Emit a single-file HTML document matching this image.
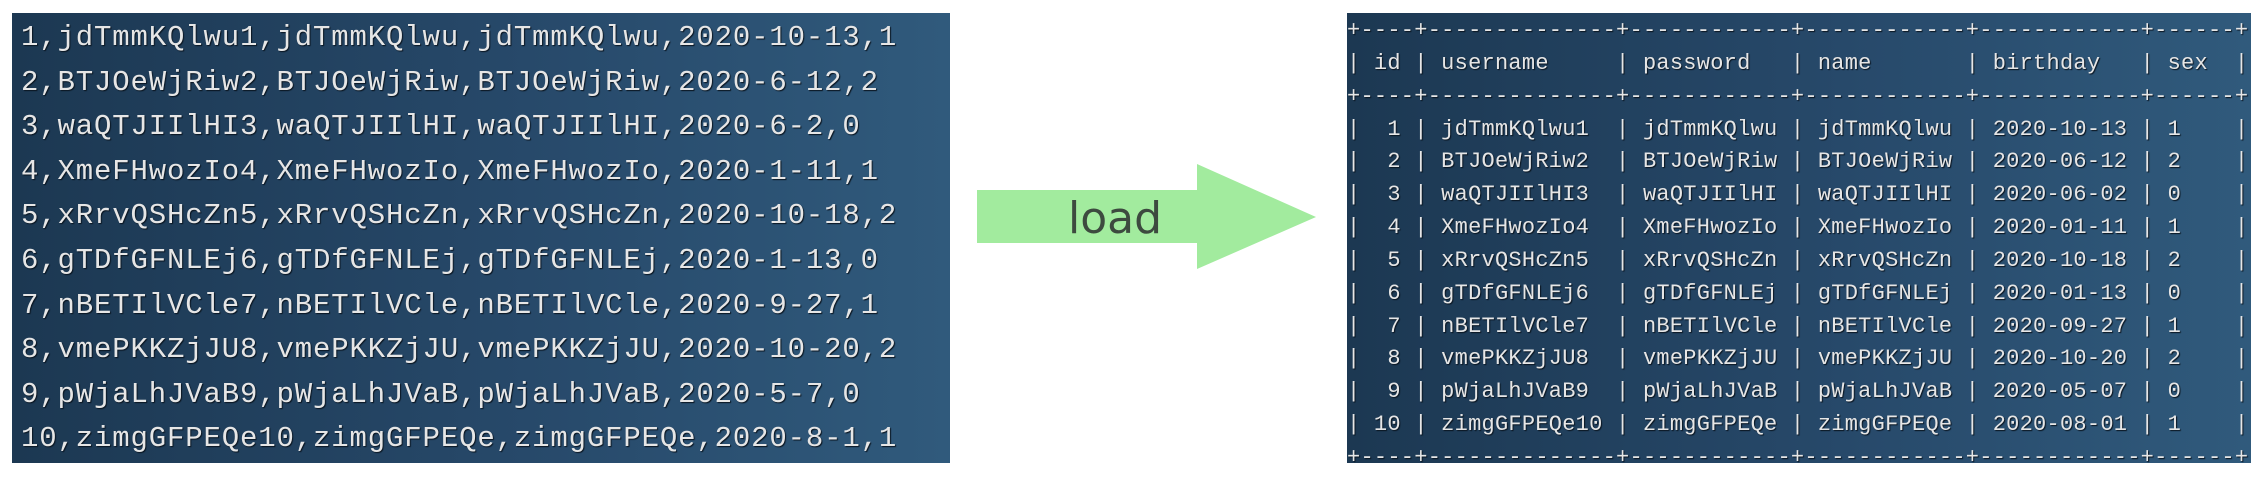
<!DOCTYPE html>
<html><head><meta charset="utf-8"><style>
html,body{margin:0;padding:0;background:#fff;width:2263px;height:477px;overflow:hidden;position:relative}
.box{position:absolute;top:13px;height:450px;background:linear-gradient(90deg,#1c3852 0%,#27496a 55%,#305a7c 100%)}
pre{margin:0;position:absolute;font-family:"Liberation Mono",monospace;color:#e6e6e6;text-shadow:1px 1px 1px #0a1520}
#l pre{left:9px;top:3px;font-size:29px;letter-spacing:0.85px;line-height:44.6px}
#r pre{left:0px;top:2px;font-size:22px;letter-spacing:0.25px;line-height:32.85px}
</style></head><body>
<div class="box" id="l" style="left:12px;width:938px">
<pre>1,jdTmmKQlwu1,jdTmmKQlwu,jdTmmKQlwu,2020-10-13,1
2,BTJOeWjRiw2,BTJOeWjRiw,BTJOeWjRiw,2020-6-12,2
3,waQTJIIlHI3,waQTJIIlHI,waQTJIIlHI,2020-6-2,0
4,XmeFHwozIo4,XmeFHwozIo,XmeFHwozIo,2020-1-11,1
5,xRrvQSHcZn5,xRrvQSHcZn,xRrvQSHcZn,2020-10-18,2
6,gTDfGFNLEj6,gTDfGFNLEj,gTDfGFNLEj,2020-1-13,0
7,nBETIlVCle7,nBETIlVCle,nBETIlVCle,2020-9-27,1
8,vmePKKZjJU8,vmePKKZjJU,vmePKKZjJU,2020-10-20,2
9,pWjaLhJVaB9,pWjaLhJVaB,pWjaLhJVaB,2020-5-7,0
10,zimgGFPEQe10,zimgGFPEQe,zimgGFPEQe,2020-8-1,1</pre>
</div>
<svg style="position:absolute;left:0;top:0" width="2263" height="477">
<polygon points="977,190 1197,190 1197,164 1316,217 1197,269 1197,243 977,243" fill="#a2eb9e"/>
<text x="1115" y="233" font-family="'DejaVu Sans','Liberation Sans',sans-serif" font-size="44" fill="#3d4a3f" text-anchor="middle">load</text>
</svg>
<div class="box" id="r" style="left:1347px;width:904px">
<pre>+----+--------------+------------+------------+------------+------+
| id | username     | password   | name       | birthday   | sex  |
+----+--------------+------------+------------+------------+------+
|  1 | jdTmmKQlwu1  | jdTmmKQlwu | jdTmmKQlwu | 2020-10-13 | 1    |
|  2 | BTJOeWjRiw2  | BTJOeWjRiw | BTJOeWjRiw | 2020-06-12 | 2    |
|  3 | waQTJIIlHI3  | waQTJIIlHI | waQTJIIlHI | 2020-06-02 | 0    |
|  4 | XmeFHwozIo4  | XmeFHwozIo | XmeFHwozIo | 2020-01-11 | 1    |
|  5 | xRrvQSHcZn5  | xRrvQSHcZn | xRrvQSHcZn | 2020-10-18 | 2    |
|  6 | gTDfGFNLEj6  | gTDfGFNLEj | gTDfGFNLEj | 2020-01-13 | 0    |
|  7 | nBETIlVCle7  | nBETIlVCle | nBETIlVCle | 2020-09-27 | 1    |
|  8 | vmePKKZjJU8  | vmePKKZjJU | vmePKKZjJU | 2020-10-20 | 2    |
|  9 | pWjaLhJVaB9  | pWjaLhJVaB | pWjaLhJVaB | 2020-05-07 | 0    |
| 10 | zimgGFPEQe10 | zimgGFPEQe | zimgGFPEQe | 2020-08-01 | 1    |
+----+--------------+------------+------------+------------+------+</pre>
</div>
</body></html>
